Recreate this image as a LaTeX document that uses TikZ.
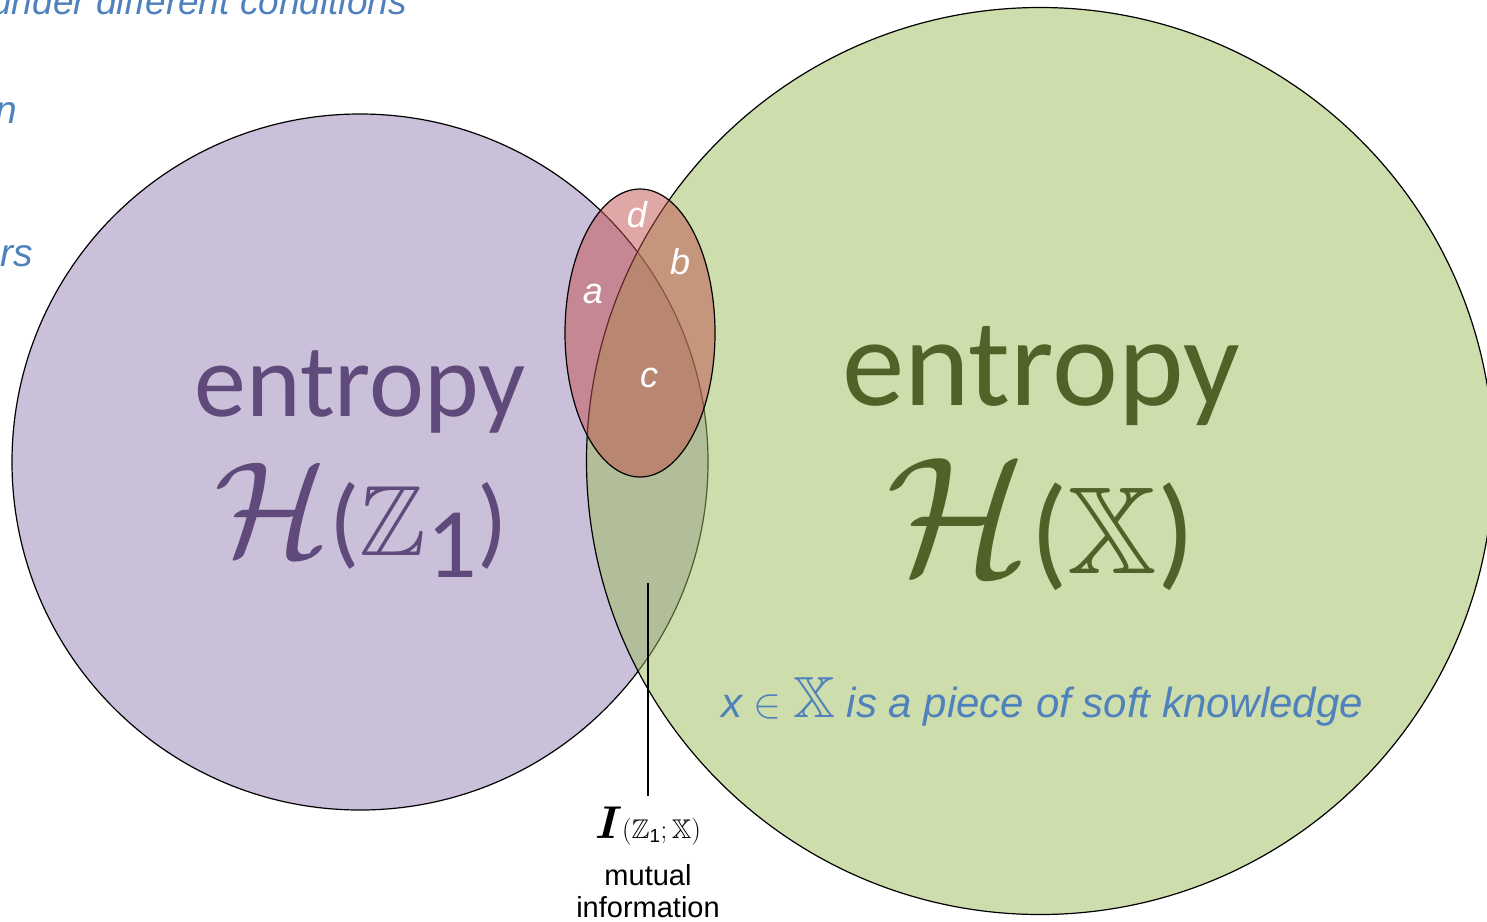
\RequirePackage{fix-cm}
\documentclass[tikz,border=0pt]{standalone}
\usepackage{amsmath,amssymb,bm}
\usepackage{fontspec}
\newfontfamily\calibri{Carlito}
\newfontfamily\arial{Liberation Sans}
\usetikzlibrary{shapes.geometric,positioning}
\definecolor{zFill}{HTML}{CBC0DA}
\definecolor{zInk}{HTML}{604A7B}
\definecolor{xGreen}{HTML}{9BBB59}
\definecolor{xInk}{HTML}{4F6228}
\definecolor{kRed}{HTML}{C0504D}
\definecolor{noteBlue}{HTML}{4F81BD}
\newcommand{\bigH}[1]{{\fontsize{#1}{#1}\selectfont$\mathcal{H}$}}
\tikzset{
  setcirc/.style={circle, draw=black, line width=1.2pt, inner sep=0pt},
  knowell/.style={ellipse, draw=black, line width=1.2pt, inner sep=0pt,
                  fill=kRed, fill opacity=0.5},
  bigword/.style={font=\calibri\fontsize{#1}{#1}\selectfont, inner sep=0pt},
  bigmath/.style={font=\calibri\fontsize{#1}{#1}\selectfont, inner sep=0pt},
  note/.style={font=\arial\itshape\fontsize{#1}{#1}\selectfont,
               text=noteBlue, inner sep=0pt},
  region/.style={font=\arial\itshape\fontsize{36}{36}\selectfont,
                 text=white, inner sep=0pt},
  infotext/.style={font=\arial\fontsize{29}{33}\selectfont, inner sep=0pt},
}
\begin{document}
\begin{tikzpicture}[x=1pt, y=-1pt]
  \useasboundingbox (0,0) rectangle (1487,921);
  % entropy circles
  \node[setcirc, fill=zFill, minimum size=696] (hz) at (360,462) {};
  \node[setcirc, fill=xGreen, fill opacity=0.5, minimum size=907] (hx) at (1040,461) {};
  % soft knowledge ellipse
  \node[knowell, minimum width=150, minimum height=288] (kell) at (640,333) {};
  % region labels
  \node[region] (ra) at (593,294) {a};
  \node[region] (rb) at (680,262) {b};
  \node[region] (rc) at (649,378) {c};
  \node[region] (rd) at (637,215) {d};
  % entropy labels
  \node[bigword=104, text=zInk, anchor=base] (entz) at (360,416) {entropy};
  \node[bigmath=100, text=zInk, anchor=base] (hzlab) at (361,555)
    {\bigH{135}($\mathbb{Z}$\raisebox{-0.22em}{1})};
  \node[bigword=125, text=xInk, anchor=base] (entx) at (1041,405) {entropy};
  \node[bigmath=124, text=xInk, anchor=base] (hxlab) at (1041,573)
    {\bigH{168}($\mathbb{X}$)};
  \node[note=42, anchor=base] (softk) at (1042,717)
    {x $\in$ {\fontsize{58}{58}\selectfont$\mathbb{X}$} is a piece of soft knowledge};
  % cut-off notes
  \node[note=37, anchor=base east] (cond) at (407,14) {under different conditions};
  \node[note=39, anchor=base east] (fragn) at (17,123) {n};
  \node[note=39, anchor=base east] (fragrs) at (33,266) {rs};
  % mutual information
  \coordinate (mitop) at (648,583);
  \node[anchor=base, inner sep=2pt] (milab) at (648,838)
    {{\fontsize{46}{46}\selectfont$\bm{I}$}{\fontsize{27}{27}\selectfont$(\mathbb{Z}_{\text{\arial 1}};\mathbb{X})$}};
  \node[infotext, anchor=base] (mitxt) at (648,885) {mutual};
  \node[infotext, anchor=base] (mitxt2) at (648,917) {information};
  \draw[line width=1.2pt, shorten >=8pt] (mitop) -- (milab.north);
\end{tikzpicture}
\end{document}
